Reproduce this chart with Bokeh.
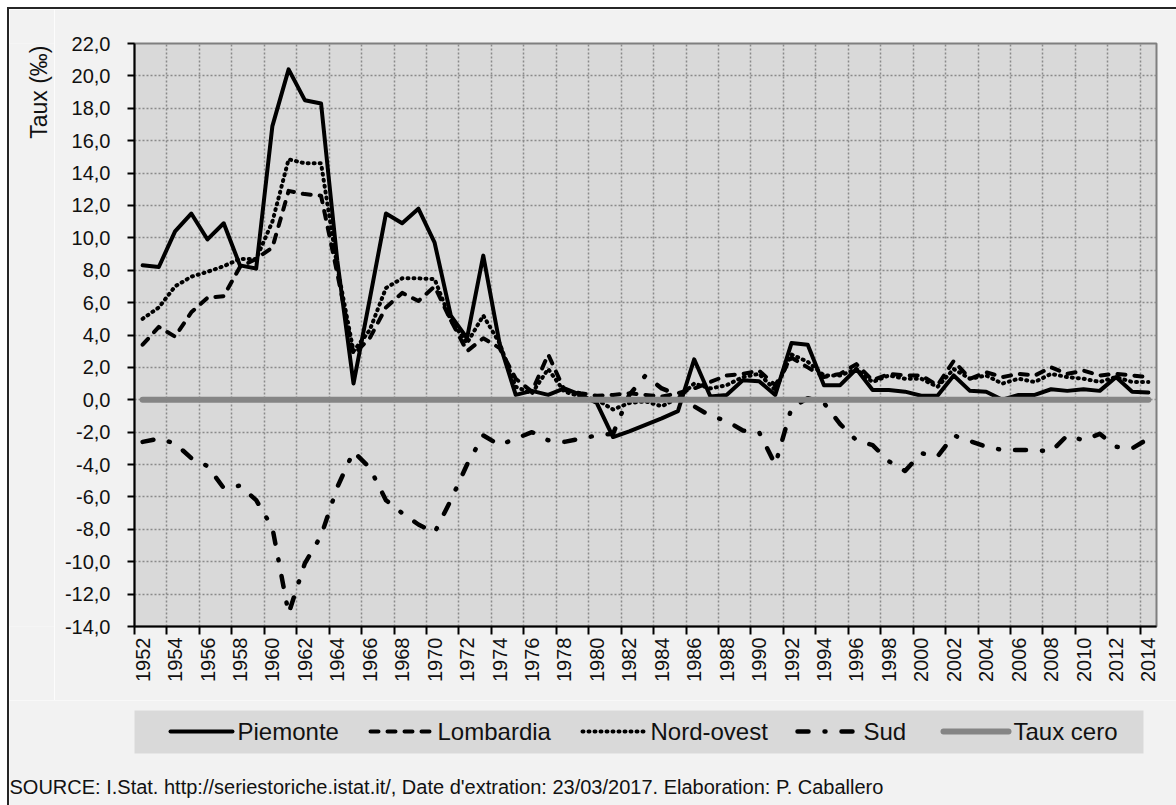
from math import pi
from bokeh.plotting import figure
from bokeh.models import Range1d, FixedTicker, CustomJSTickFormatter
from bokeh.layouts import column, row
from bokeh.embed import file_html
from bokeh.resources import INLINE
from bokeh.core.properties import value

# ---------------- data ----------------
years = list(range(1952, 2015))

piemonte = [8.3, 8.2, 10.4, 11.5, 9.9, 10.9, 8.3, 8.1, 16.9, 20.4,
            18.5, 18.3, 8.6, 1.0, 6.2, 11.5, 10.9, 11.8, 9.7, 5.2,
            3.8, 8.9, 3.5, 0.3, 0.55, 0.3, 0.7, 0.3, -0.2, -2.3,
            -1.95, -1.55, -1.15, -0.7, 2.5, 0.2, 0.3, 1.2, 1.15, 0.3,
            3.5, 3.4, 0.9, 0.9, 1.9, 0.6, 0.6, 0.5, 0.25, 0.25,
            1.5, 0.55, 0.5, 0.0, 0.3, 0.3, 0.65, 0.55, 0.65, 0.55,
            1.4, 0.5, 0.45]

lombardia = [3.4, 4.5, 3.9, 5.4, 6.3, 6.4, 8.2, 8.7, 9.4, 12.9,
             12.7, 12.6, 7.8, 2.8, 3.8, 5.7, 6.6, 6.1, 7.0, 4.9,
             3.0, 3.8, 3.2, 1.3, 0.5, 2.8, 0.6, 0.4, 0.25, 0.3,
             0.4, 0.3, 0.2, 0.4, 0.7, 1.1, 1.5, 1.6, 1.8, 0.9,
             2.6, 2.0, 1.4, 1.6, 2.2, 1.2, 1.6, 1.5, 1.5, 0.9,
             2.4, 1.3, 1.7, 1.4, 1.6, 1.5, 2.0, 1.6, 1.8, 1.5,
             1.6, 1.5, 1.4]

nord_ovest = [5.0, 5.7, 7.0, 7.6, 7.9, 8.25, 8.7, 8.7, 11.0, 14.85,
              14.6, 14.6, 8.2, 3.0, 4.3, 6.9, 7.5, 7.5, 7.45, 4.9,
              3.5, 5.2, 3.5, 0.8, 0.4, 1.9, 0.5, 0.2, 0.0, -0.6,
              -0.2, -0.1, -0.4, 0.1, 1.0, 0.7, 0.9, 1.4, 1.6, 0.6,
              2.8, 2.35, 1.5, 1.5, 1.9, 1.1, 1.5, 1.3, 1.3, 0.8,
              1.9, 1.3, 1.5, 1.0, 1.3, 1.1, 1.6, 1.4, 1.3, 1.1,
              1.4, 1.1, 1.1]

sud = [-2.6, -2.4, -2.7, -3.6, -4.1, -5.45, -5.3, -6.2, -7.9, -13.2,
       -10.1, -8.4, -5.4, -3.2, -4.2, -6.2, -7.0, -7.7, -8.2, -6.2,
       -4.0, -2.2, -2.8, -2.4, -2.0, -2.5, -2.6, -2.4, -2.2, -2.1,
       0.3, 1.5, 0.7, 0.3, -0.4, -1.0, -1.3, -1.9, -2.0, -4.0,
       -0.5, 0.1, -0.2, -1.5, -2.5, -2.8, -3.8, -4.4, -3.3, -3.5,
       -2.2, -2.55, -2.9, -3.1, -3.1, -3.1, -3.2, -2.2, -2.5, -2.1,
       -2.9, -3.0, -2.4]

taux_cero = [0.0] * len(years)

series_names = ["Piemonte", "Lombardia", "Nord-ovest", "Sud", "Taux cero"]
series_values = [piemonte, lombardia, nord_ovest, sud, taux_cero]

y_ticks = list(range(-14, 23, 2))
x_label_years = list(range(1952, 2015, 2))

y_title = "Taux (\u2030)"
source_text = ("SOURCE:  I.Stat.  http://seriestoriche.istat.it/, "
               "Date d'extration: 23/03/2017. Elaboration: P. Caballero")

# ---------------- styles ----------------
styles = {
    "Piemonte":   dict(line_color="#000000", line_width=4, line_cap="round", line_join="round"),
    "Lombardia":  dict(line_color="#000000", line_width=4, line_dash="8 9", line_cap="round", line_join="round"),
    "Nord-ovest": dict(line_color="#000000", line_width=4, line_dash="1 5", line_cap="round", line_join="round"),
    "Sud":        dict(line_color="#000000", line_width=4.5, line_dash="11 16 1 16", line_cap="round", line_join="round"),
    "Taux cero":  dict(line_color="#858585", line_width=6, line_cap="round", line_join="round"),
}

FONT = "Liberation Sans"
TEXT_COLOR = "#111111"
GRID_COLOR = "#8a8a8a"
PANEL_BG = "#f2f2f2"
PLOT_BG = "#d9d9d9"

# ---------------- main chart ----------------
y_range = Range1d(-14, 22)
p = figure(width=1122, height=691,
           x_range=Range1d(1951.5, 2014.5), y_range=y_range,
           output_backend="svg", toolbar_location=None,
           min_border_left=80, min_border_right=20,
           min_border_top=34, min_border_bottom=74,
           background_fill_color=PLOT_BG, border_fill_color=PANEL_BG,
           outline_line_color="#7f7f7f", outline_line_width=2)

# x axis: labels at even years, tick marks at category boundaries
boundaries = [y - 0.5 for y in x_label_years]
p.xaxis.ticker = FixedTicker(ticks=x_label_years, minor_ticks=boundaries)
p.xaxis.major_tick_line_color = None
p.xaxis.major_tick_out = 8
p.xaxis.major_tick_in = 0
p.xaxis.minor_tick_out = 8
p.xaxis.minor_tick_in = 0
p.xaxis.minor_tick_line_color = "#000000"
p.xaxis.minor_tick_line_width = 2
p.xaxis.axis_line_color = "#000000"
p.xaxis.axis_line_width = 2
p.xaxis.major_label_orientation = pi / 2
p.xaxis.major_label_standoff = 3
p.xaxis.major_label_text_font = FONT
p.xaxis.major_label_text_font_size = "20px"
p.xaxis.major_label_text_color = TEXT_COLOR

# y axis
p.yaxis.ticker = FixedTicker(ticks=y_ticks)
p.yaxis.formatter = CustomJSTickFormatter(code="return tick.toFixed(1).replace('.', ',');")
p.yaxis.major_tick_out = 7
p.yaxis.major_tick_in = 0
p.yaxis.major_tick_line_color = "#000000"
p.yaxis.major_tick_line_width = 2
p.yaxis.minor_tick_line_color = None
p.yaxis.axis_line_color = "#000000"
p.yaxis.axis_line_width = 2
p.yaxis.major_label_standoff = 17
p.yaxis.major_label_text_font = FONT
p.yaxis.major_label_text_font_size = "20px"
p.yaxis.major_label_text_color = TEXT_COLOR

# grids (dotted)
p.xgrid.ticker = FixedTicker(ticks=boundaries[1:])
p.ygrid.ticker = FixedTicker(ticks=y_ticks[1:])
for g in (p.xgrid, p.ygrid):
    g.grid_line_color = GRID_COLOR
    g.grid_line_width = 1.5
    g.grid_line_dash = "2 2"

for name, vals in zip(series_names, series_values):
    p.line(years, vals, **styles[name])

# ---------------- y-axis title strip (left) ----------------
strip = figure(width=45, height=691, x_range=Range1d(0, 45), y_range=y_range,
               x_axis_type=None, y_axis_type=None, output_backend="svg",
               toolbar_location=None, min_border_left=0, min_border_right=0,
               min_border_top=34, min_border_bottom=74,
               background_fill_color=PANEL_BG, border_fill_color=PANEL_BG,
               outline_line_color=None)
strip.text(x=[29], y=[22 - 2 * 36 / 583], text=[y_title], angle=pi / 2,
           text_align="right", text_baseline="middle", text_font=value(FONT),
           text_font_size="23px", text_color=TEXT_COLOR)

# ---------------- legend + source strip (page pixel coordinates) ----------------
p2 = figure(width=1167, height=105, x_range=Range1d(9, 1176), y_range=Range1d(805, 700),
            x_axis_type=None, y_axis_type=None, output_backend="svg",
            toolbar_location=None, min_border=0,
            background_fill_color=PANEL_BG, border_fill_color=PANEL_BG,
            outline_line_color=None)

p2.quad(left=[134], right=[1143], top=[710], bottom=[753], fill_color=PLOT_BG, line_color=None)

sample_x = [(170, 232), (370, 432), (582, 643), (797, 857), (943, 1008)]
label_x = [237, 437, 650, 863, 1013]
for name, (x0, x1) in zip(series_names, sample_x):
    p2.line([x0, x1], [731, 731], **styles[name])
p2.text(x=label_x, y=[731] * 5, text=series_names, text_font=value(FONT),
        text_font_size="24px", text_baseline="middle", text_align="left",
        text_color=TEXT_COLOR)
p2.text(x=[9], y=[786], text=[source_text], text_font=value(FONT),
        text_font_size="20px", text_baseline="middle", text_align="left",
        text_color=TEXT_COLOR)

layout = column(row(strip, p), row(p2), spacing=0, margin=(7, 0, 0, 7),
                styles={"border-left": "2px solid #262626", "border-top": "2px solid #262626"})

open("out.html", "w").write(file_html(layout, INLINE))
